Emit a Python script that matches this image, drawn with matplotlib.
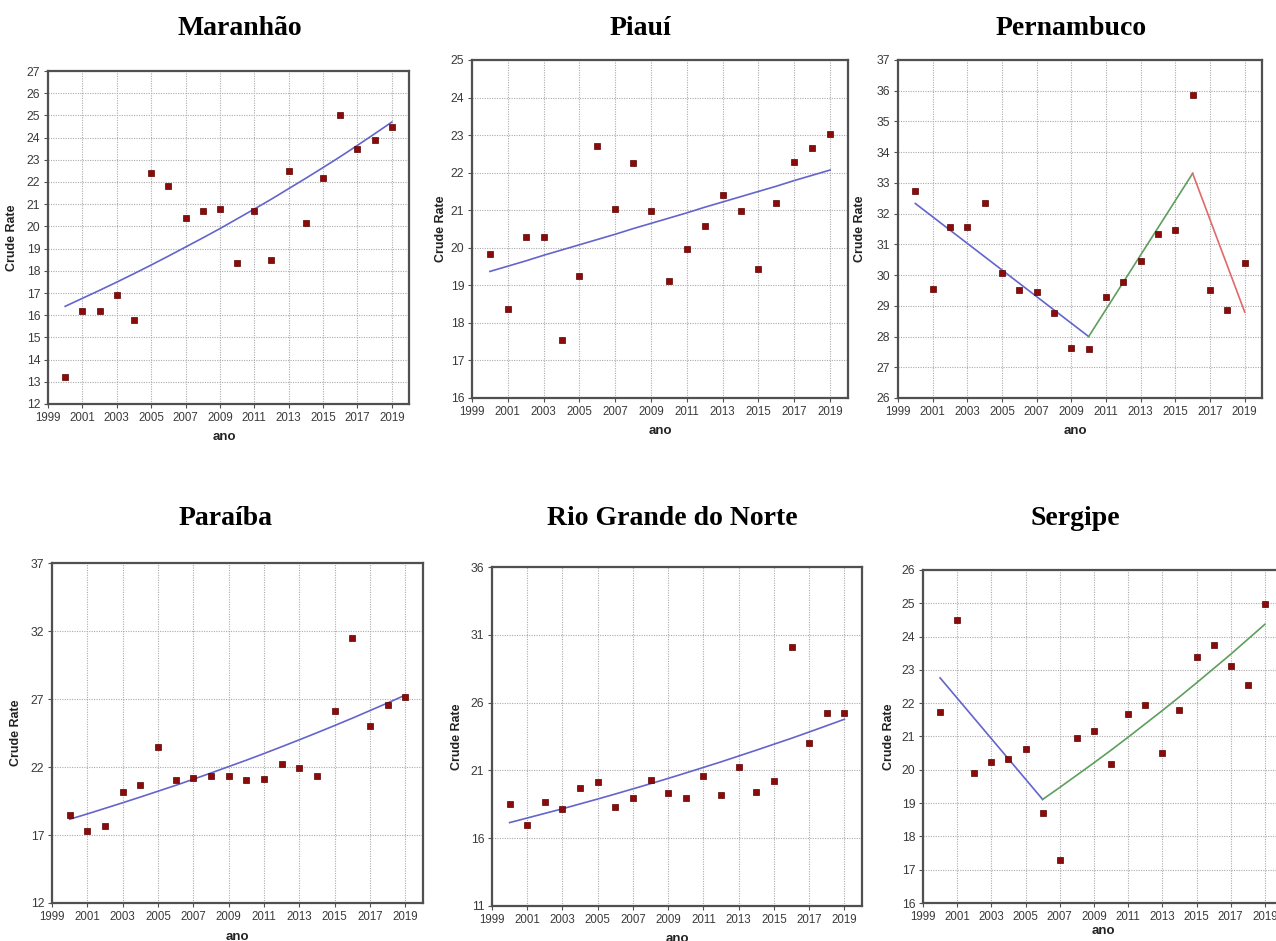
import matplotlib
matplotlib.use("Agg")
import matplotlib.pyplot as plt
from matplotlib import font_manager

W, H = 1276, 941

years = list(range(2000, 2020))

# ---- data ----
maranhao = [13.2, 16.2, 16.2, 16.9, 15.8, 22.4, 21.8, 20.4, 20.7, 20.8,
            18.35, 20.7, 18.5, 22.5, 20.15, 22.2, 25.0, 23.5, 23.9, 24.5]
maranhao_trend = [16.40, 16.76, 17.12, 17.49, 17.87, 18.26, 18.66, 19.07, 19.48, 19.90,
                  20.34, 20.78, 21.23, 21.70, 22.17, 22.65, 23.14, 23.65, 24.17, 24.70]

piaui = [19.83, 18.38, 20.28, 20.28, 17.54, 19.25, 22.72, 21.03, 22.26, 20.98,
         19.12, 19.96, 20.57, 21.40, 20.97, 19.43, 21.19, 22.29, 22.67, 23.02]
piaui_trend = [19.37, 19.51, 19.65, 19.80, 19.94, 20.08, 20.22, 20.36, 20.51, 20.65,
               20.79, 20.93, 21.08, 21.22, 21.36, 21.50, 21.64, 21.79, 21.93, 22.07]

pernambuco = [32.73, 29.56, 31.56, 31.56, 32.33, 30.06, 29.53, 29.46, 28.77, 27.64,
              27.61, 29.29, 29.78, 30.46, 31.34, 31.47, 35.85, 29.52, 28.88, 30.39]
pernambuco_seg_years = [[2000, 2010], [2010, 2016], [2016, 2019]]
pernambuco_seg_vals = [[32.33, 28.00], [28.00, 33.31], [33.31, 28.80]]

paraiba = [18.50, 17.33, 17.68, 20.19, 20.68, 23.47, 21.03, 21.17, 21.37, 21.32,
           21.05, 21.12, 22.23, 21.93, 21.34, 26.11, 31.52, 24.99, 26.53, 27.17]
paraiba_trend = [18.16, 18.55, 18.96, 19.37, 19.79, 20.22, 20.65, 21.10, 21.56, 22.03,
                 22.50, 22.99, 23.49, 24.00, 24.52, 25.05, 25.59, 26.15, 26.71, 27.29]

rgn = [18.50, 17.00, 18.67, 18.18, 19.68, 20.17, 18.28, 18.96, 20.32, 19.31,
       18.96, 20.61, 19.21, 21.23, 19.38, 20.24, 30.10, 23.00, 25.26, 25.23]
rgn_trend = [17.15, 17.49, 17.83, 18.17, 18.53, 18.89, 19.26, 19.64, 20.02, 20.41,
             20.81, 21.22, 21.63, 22.06, 22.49, 22.93, 23.37, 23.83, 24.30, 24.77]

sergipe = [21.75, 24.49, 19.90, 20.23, 20.32, 20.63, 18.70, 17.29, 20.96, 21.18,
           20.17, 21.69, 21.94, 20.50, 21.81, 23.40, 23.74, 23.11, 22.56, 24.97]
sergipe_seg1_years = [2000, 2006]
sergipe_seg1_vals = [22.76, 19.11]
sergipe_seg2_years = list(range(2006, 2020))
sergipe_seg2_vals = [19.11, 19.47, 19.84, 20.21, 20.59, 20.98, 21.38, 21.78, 22.19,
                     22.61, 23.04, 23.47, 23.92, 24.37]

xticks = list(range(1999, 2020, 2))

# ---- styling ----
fonts = {f.name for f in font_manager.fontManager.ttflist}
tick_font = "Liberation Sans Narrow" if "Liberation Sans Narrow" in fonts else "Liberation Sans"
tick_size = 9 if tick_font == "Liberation Sans Narrow" else 8.3
MARK = "#8b0a0a"
BLUE = "#6464cc"
GREEN = "#5e9e5e"
RED = "#e06a6a"
FRAME = "#505050"

fig = plt.figure(figsize=(W / 100, H / 100), dpi=100)
fig.patch.set_facecolor("white")


def make_axes(l, r, t, b):
    return fig.add_axes([l / W, 1 - b / H, (r - l) / W, (b - t) / H])


def style(ax, box, ylim, yticks, ylab_px, xlab_px, xlab_top):
    l, r, t, b = box
    ax.set_xlim(1999, 2020)
    ax.set_ylim(*ylim)
    ax.set_xticks(xticks)
    ax.set_yticks(yticks)
    ax.set_xticklabels([str(v) for v in xticks], fontsize=tick_size, family=tick_font, color="#3a3a3a")
    ax.set_yticklabels([str(v) for v in yticks], fontsize=tick_size + 0.5, family=tick_font, color="#3a3a3a")
    ax.tick_params(axis="both", length=3, width=0.8, color=FRAME, pad=2.5)
    ax.grid(True, color="#ababab", linestyle=(0, (1, 1.2)), linewidth=0.8)
    ax.set_axisbelow(True)
    for s in ax.spines.values():
        s.set_color(FRAME)
        s.set_linewidth(1.6)
    ax.set_ylabel("Crude Rate", fontsize=9, fontweight="bold", family="Liberation Sans", color="#222222")
    ax.set_xlabel("ano", fontsize=9.5, fontweight="bold", family="Liberation Sans", color="#222222")
    ax.yaxis.set_label_coords((ylab_px - l) / (r - l), 0.5)
    ax.xaxis.set_label_coords((xlab_px - l) / (r - l), (b - xlab_top) / (b - t))


def points(ax, vals):
    ax.plot(years, vals, linestyle="none", marker="s", markersize=4.8,
            markerfacecolor=MARK, markeredgecolor="#5a0000", markeredgewidth=0.5, zorder=4)


def title(x, y, text, size):
    fig.text(x / W, 1 - y / H, text, ha="center", va="baseline", fontsize=size,
             fontweight="bold", family="Liberation Serif", color="black")


# Maranhão
box = (48, 409, 71, 404)
ax = make_axes(*box)
ax.plot(years, maranhao_trend, color=BLUE, lw=1.2, zorder=3)
points(ax, maranhao)
style(ax, box, (12, 27), list(range(12, 28)), 18, 224, 431)
title(240, 35, "Maranhão", 20)

# Piauí
box = (472, 848, 60, 398)
ax = make_axes(*box)
ax.plot(years, piaui_trend, color=BLUE, lw=1.2, zorder=3)
points(ax, piaui)
style(ax, box, (16, 25), list(range(16, 26)), 447, 660, 425)
title(640, 35, "Piauí", 20)

# Pernambuco
box = (898, 1262, 60, 398)
ax = make_axes(*box)
for yrs, vals, c in zip(pernambuco_seg_years, pernambuco_seg_vals, [BLUE, GREEN, RED]):
    ax.plot(yrs, vals, color=c, lw=1.2, zorder=3)
points(ax, pernambuco)
style(ax, box, (26, 37), list(range(26, 38)), 866, 1075, 425)
title(1071, 35, "Pernambuco", 20)

# Paraíba
box = (52, 423, 563, 903)
ax = make_axes(*box)
ax.plot(years, paraiba_trend, color=BLUE, lw=1.2, zorder=3)
points(ax, paraiba)
style(ax, box, (12, 37), list(range(12, 38, 5)), 22, 237, 931)
title(226, 525, "Paraíba", 20)

# Rio Grande do Norte
box = (492, 862, 567, 906)
ax = make_axes(*box)
ax.plot(years, rgn_trend, color=BLUE, lw=1.2, zorder=3)
points(ax, rgn)
style(ax, box, (11, 36), list(range(11, 37, 5)), 463, 677, 933)
title(672, 525, "Rio Grande do Norte", 20)

# Sergipe
box = (923, 1282, 570, 903)
ax = make_axes(*box)
ax.plot(sergipe_seg1_years, sergipe_seg1_vals, color=BLUE, lw=1.2, zorder=3)
ax.plot(sergipe_seg2_years, sergipe_seg2_vals, color=GREEN, lw=1.2, zorder=3)
points(ax, sergipe)
style(ax, box, (16, 26), list(range(16, 27)), 895, 1103, 925)
title(1075, 525, "Sergipe", 20)

fig.savefig("out.png", dpi=100, facecolor="white")
